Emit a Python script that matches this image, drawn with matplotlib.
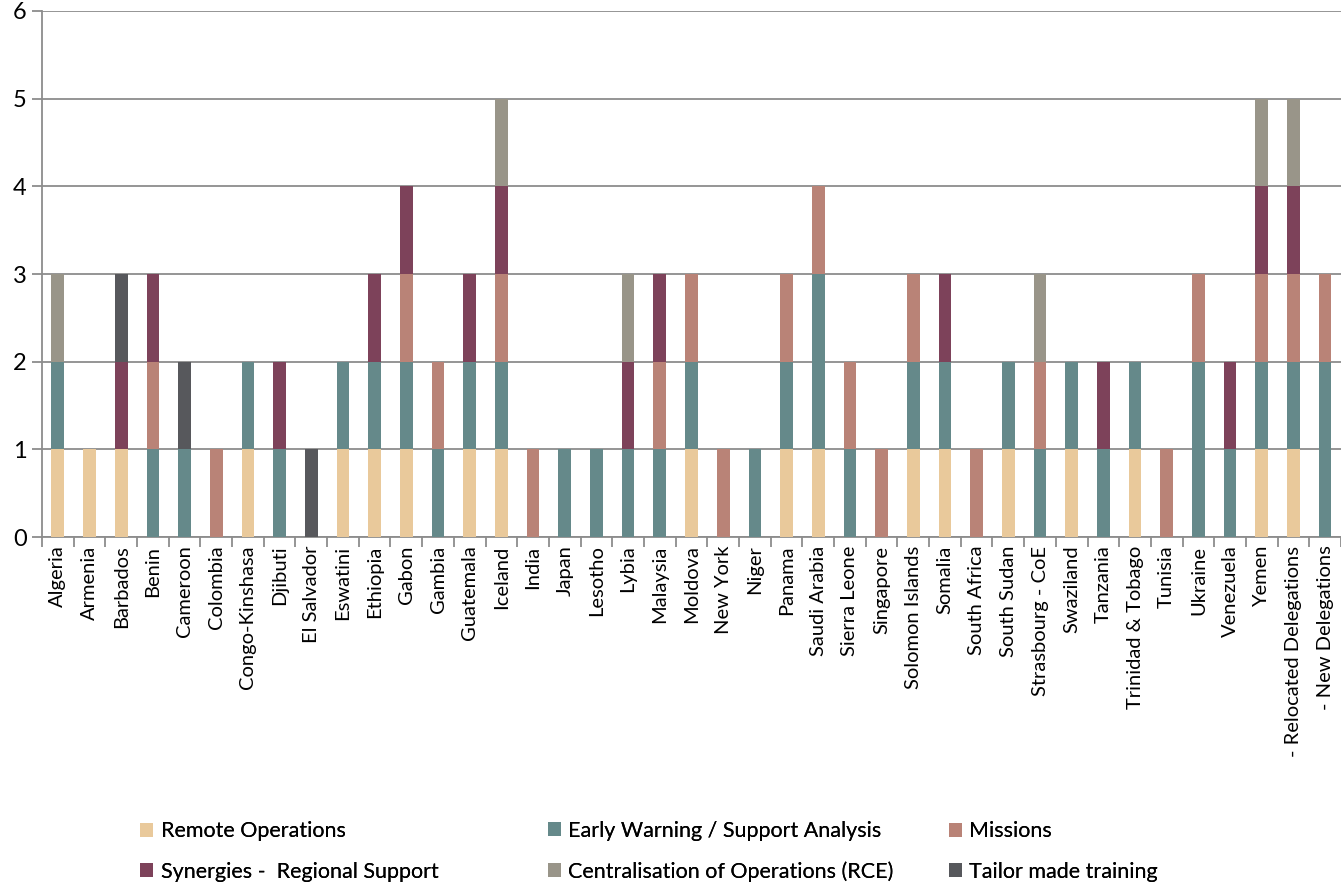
import numpy as np
import matplotlib
matplotlib.use("Agg")
import matplotlib.pyplot as plt

countries = ["Algeria", "Armenia", "Barbados", "Benin", "Cameroon", "Colombia",
             "Congo-Kinshasa", "Djibuti", "El Salvador", "Eswatini", "Ethiopia",
             "Gabon", "Gambia", "Guatemala", "Iceland", "India", "Japan", "Lesotho",
             "Lybia", "Malaysia", "Moldova", "New York", "Niger", "Panama",
             "Saudi Arabia", "Sierra Leone", "Singapore", "Solomon Islands",
             "Somalia", "South Africa", "South Sudan", "Strasbourg - CoE",
             "Swaziland", "Tanzania", "Trinidad & Tobago", "Tunisia", "Ukraine",
             "Venezuela", "Yemen", "- Relocated Delegations", "- New Delegations"]

remote = [1, 1, 1, 0, 0, 0, 1, 0, 0, 1, 1, 1, 0, 1, 1, 0, 0, 0, 0, 0, 1, 0, 0, 1,
          1, 0, 0, 1, 1, 0, 1, 0, 1, 0, 1, 0, 0, 0, 1, 1, 0]
early = [1, 0, 0, 1, 1, 0, 1, 1, 0, 1, 1, 1, 1, 1, 1, 0, 1, 1, 1, 1, 1, 0, 1, 1,
         2, 1, 0, 1, 1, 0, 1, 1, 1, 1, 1, 0, 2, 1, 1, 1, 2]
missions = [0, 0, 0, 1, 0, 1, 0, 0, 0, 0, 0, 1, 1, 0, 1, 1, 0, 0, 0, 1, 1, 1, 0, 1,
            1, 1, 1, 1, 0, 1, 0, 1, 0, 0, 0, 1, 1, 0, 1, 1, 1]
synergies = [0, 0, 1, 1, 0, 0, 0, 1, 0, 0, 1, 1, 0, 1, 1, 0, 0, 0, 1, 1, 0, 0, 0, 0,
             0, 0, 0, 0, 1, 0, 0, 0, 0, 1, 0, 0, 0, 1, 1, 1, 0]
central = [1, 0, 0, 0, 0, 0, 0, 0, 0, 0, 0, 0, 0, 0, 1, 0, 0, 0, 1, 0, 0, 0, 0, 0,
           0, 0, 0, 0, 0, 0, 0, 1, 0, 0, 0, 0, 0, 0, 1, 1, 0]
tailor = [0, 0, 1, 0, 1, 0, 0, 0, 1, 0, 0, 0, 0, 0, 0, 0, 0, 0, 0, 0, 0, 0, 0, 0,
          0, 0, 0, 0, 0, 0, 0, 0, 0, 0, 0, 0, 0, 0, 0, 0, 0]

series = [
    ("Remote Operations", remote, "#E9C99B"),
    ("Early Warning / Support Analysis", early, "#65898A"),
    ("Missions", missions, "#B98377"),
    ("Synergies -  Regional Support", synergies, "#7D425A"),
    ("Centralisation of Operations (RCE)", central, "#999589"),
    ("Tailor made training", tailor, "#57585C"),
]

plt.rcParams["font.family"] = ["Lato", "DejaVu Sans"]

fig = plt.figure(figsize=(13.41, 8.85), dpi=100)
ax = fig.add_axes([0.0313, 0.393, 0.9687, 0.5947])

x = np.arange(len(countries))
bottom = np.zeros(len(countries))
handles = []
for name, vals, col in series:
    vals = np.array(vals, dtype=float)
    h = ax.bar(x, vals, 0.4, bottom=bottom, color=col, label=name, zorder=3)
    handles.append(h)
    bottom += vals

ax.set_xlim(-0.5, len(countries) - 0.5)
ax.set_ylim(0, 6)
ax.set_yticks(range(7))
ax.yaxis.grid(True, color="#8c8c8c", linewidth=1.3, zorder=0)
for s in ["top", "right"]:
    ax.spines[s].set_visible(False)
for s in ["left", "bottom"]:
    ax.spines[s].set_color("#8c8c8c")
    ax.spines[s].set_linewidth(1.3)

ax.set_xticks(x)
ax.set_xticklabels(countries, rotation=90, fontsize=14.5)
ax.tick_params(axis="x", length=0, pad=6)
ax.set_xticks(np.arange(-0.5, len(countries)), minor=True)
ax.tick_params(axis="x", which="minor", length=7, color="#8c8c8c", width=1.3)
ax.tick_params(axis="y", length=7, color="#8c8c8c", width=1.3, labelsize=17, pad=4)

# legend: three columns, row-major like the original
col_x = [0.095, 0.399, 0.698]
for i, cx in enumerate(col_x):
    hs = [handles[i], handles[i + 3]]
    leg = fig.legend(hs, [h.get_label() for h in hs], loc="lower left",
                     bbox_to_anchor=(cx, -0.011), frameon=False, fontsize=15.5,
                     handlelength=0.6, handleheight=0.6, handletextpad=0.35,
                     labelspacing=0.95, borderaxespad=0.2)
    fig.add_artist(leg)

fig.savefig("out.png", dpi=100)
